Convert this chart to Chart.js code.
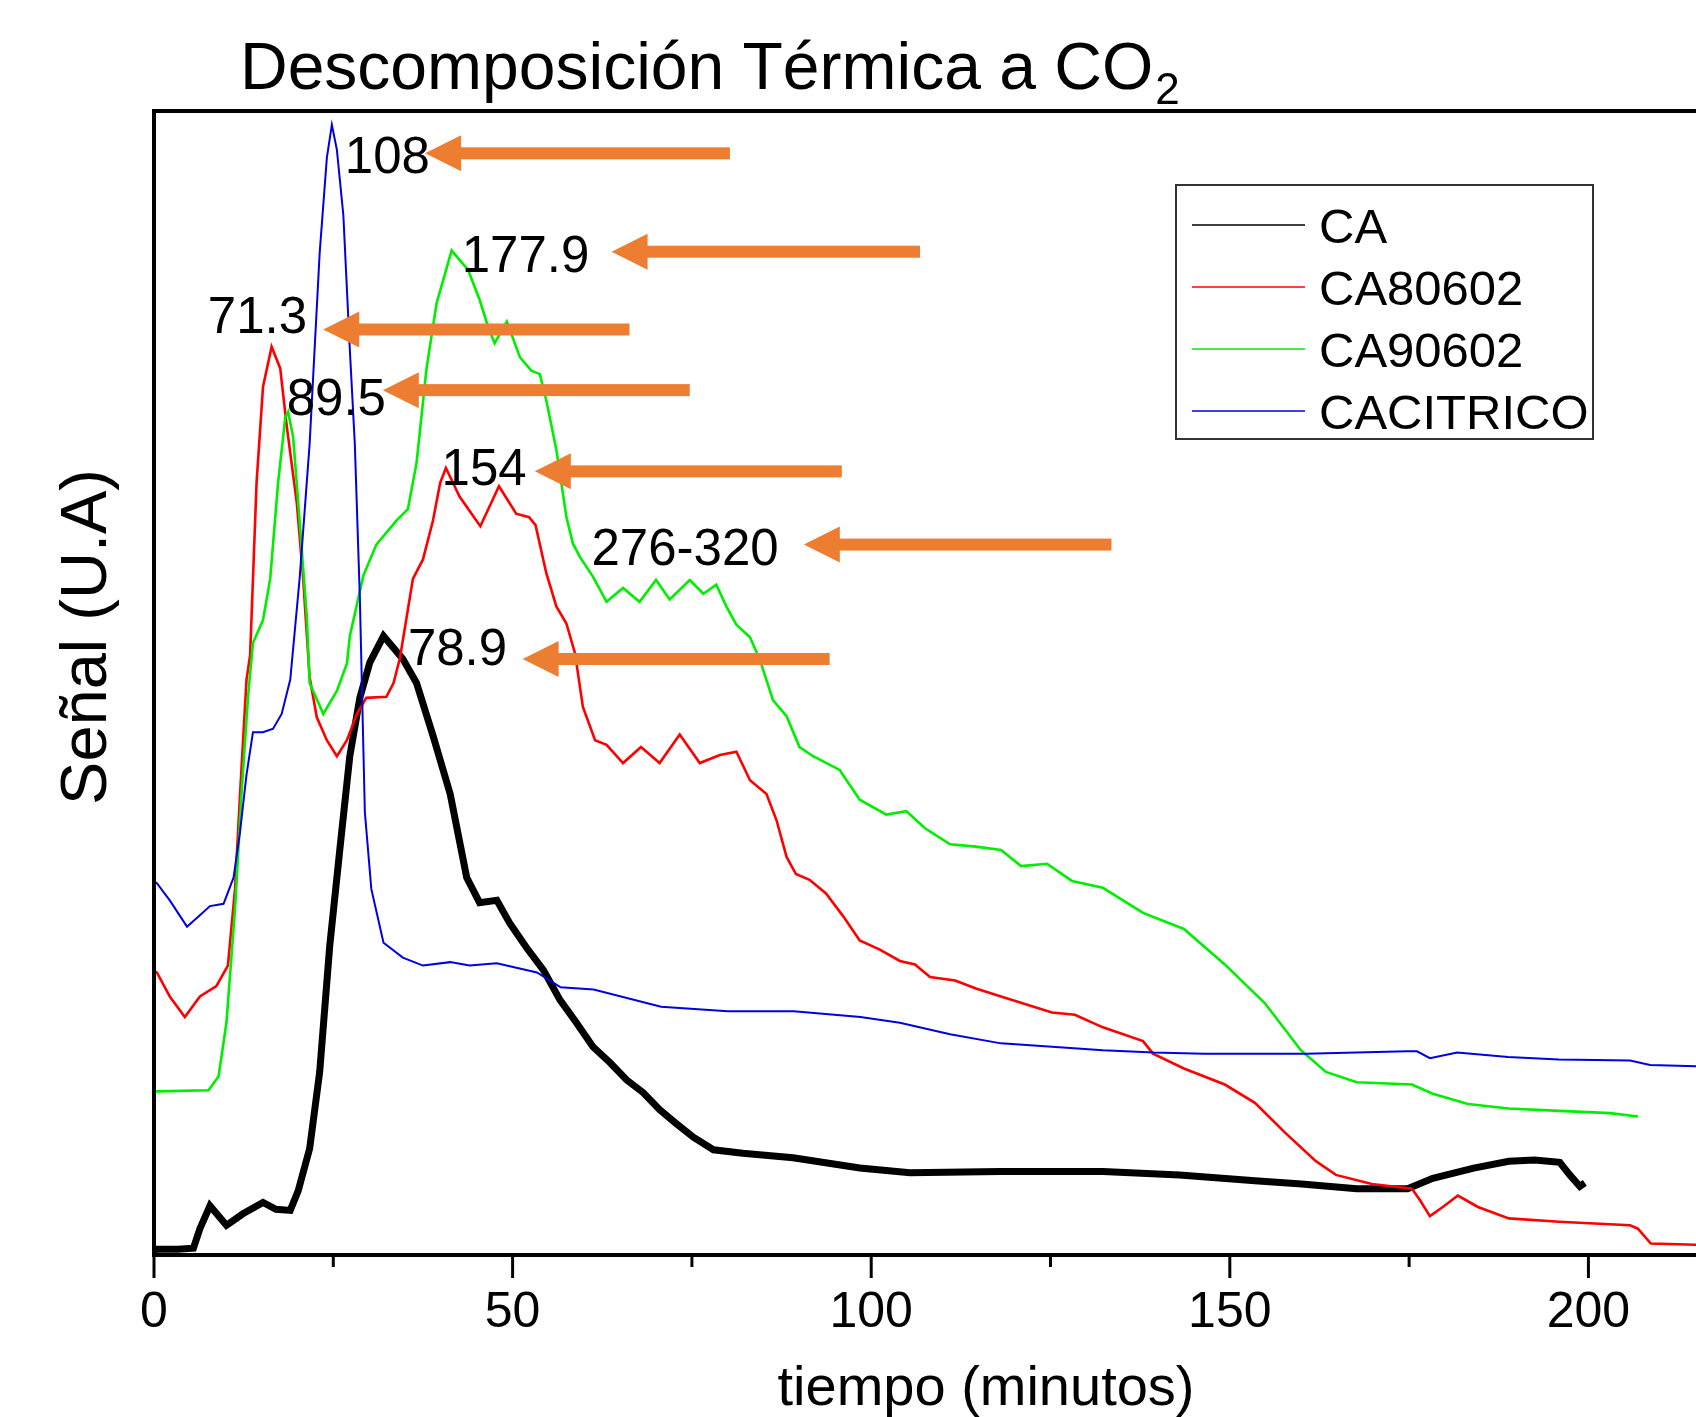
<!DOCTYPE html>
<html>
<head>
<meta charset="utf-8">
<script src="https://cdn.jsdelivr.net/npm/chart.js@4.4.0/dist/chart.umd.min.js"></script>
<style>
html,body{margin:0;padding:0;background:#ffffff;}
#wrap{width:1696px;height:1417px;position:relative;overflow:hidden;}
</style>
</head>
<body>
<div id="wrap"><canvas id="c" width="1696" height="1417"></canvas></div>
<script>
// ---------------- DATA ----------------
const chartTitle = 'Descomposición Térmica a CO';
const chartTitleSub = '2';
const xAxisTitle = 'tiempo (minutos)';
const yAxisTitle = 'Señal (U.A)';
const seriesNames = ['CA', 'CA80602', 'CA90602', 'CACITRICO'];
const xTickLabels = ['0', '50', '100', '150', '200'];
const xTickValues = [0, 50, 100, 150, 200];

// CA (black)
const caTime = [
  0, 0.4, 3.3, 5.5, 6.4, 7.8, 10.1, 12.4, 15.2, 17.0,
  19.0, 20.1, 21.7, 23.1, 24.5, 25.9, 27.3, 28.7, 30.1, 32.0,
  34.7, 36.6, 38.9, 41.3, 43.6, 45.4, 47.8, 49.6, 51.9, 54.3,
  56.6, 58.9, 61.2, 63.6, 65.9, 68.2, 70.5, 72.8, 75.2, 78.0,
  82.1, 89.1, 98.4, 105.4, 118.0, 132.3, 143.0, 153.5, 160.0, 167.7,
  174.8, 178.3, 184.0, 188.9, 192.5, 196.0, 197.4, 198.8, 199.5];
const caSignal = [
  0.4, 0.5, 0.5, 0.6, 2.3, 4.3, 2.6, 3.6, 4.6, 4.0,
  3.9, 5.6, 9.3, 16.0, 27.0, 35.4, 43.6, 48.7, 51.8, 54.1,
  52.1, 50.0, 45.4, 40.3, 33.0, 30.8, 31.0, 29.0, 26.9, 24.9,
  22.3, 20.3, 18.2, 16.8, 15.3, 14.2, 12.7, 11.5, 10.3, 9.2,
  8.9, 8.5, 7.6, 7.2, 7.3, 7.3, 7.0, 6.5, 6.2, 5.8,
  5.8, 6.7, 7.6, 8.2, 8.3, 8.1, 7.0, 6.0, 6.3];

// CA80602 (red)
const ca80602Time = [
  0, 0.4, 2.2, 4.3, 6.4, 8.7, 10.3, 11.3, 12.0, 12.9,
  13.4, 14.3, 15.2, 16.4, 17.6, 18.5, 19.9, 20.8, 21.7, 22.7,
  24.1, 25.5, 26.9, 28.3, 29.6, 32.4, 33.4, 34.3, 36.1, 37.5,
  38.9, 39.9, 40.7, 42.6, 45.5, 48.1, 50.5, 52.3, 53.2, 54.7,
  56.1, 57.5, 58.7, 59.8, 61.5, 63.1, 65.4, 67.9, 70.5, 73.3,
  76.1, 78.9, 81.2, 83.1, 85.4, 86.8, 88.2, 89.5, 91.4, 93.7,
  96.1, 98.4, 101.2, 104.0, 106.1, 108.2, 111.7, 114.6, 118.1, 125.2,
  128.4, 132.3, 137.9, 139.3, 143.6, 149.3, 153.5, 157.7, 162.0, 164.8,
  169.8, 175.4, 176.5, 177.9, 179.7, 181.8, 184.6, 188.9, 195.9, 205.8,
  206.9, 208.7, 215];
const ca80602Signal = [
  24.8, 24.7, 22.6, 20.8, 22.6, 23.5, 25.3, 32.0, 40.3, 50.3,
  52.4, 67.5, 75.9, 79.4, 77.5, 72.5, 65.8, 59.1, 50.5, 47.0,
  45.0, 43.6, 45.0, 47.3, 48.7, 48.8, 50.0, 52.2, 59.1, 60.8,
  64.2, 67.5, 68.8, 66.3, 63.7, 67.2, 64.8, 64.5, 63.8, 59.6,
  56.7, 55.2, 52.6, 47.9, 45.0, 44.6, 43.0, 44.4, 43.0, 45.5,
  43.0, 43.7, 44.0, 41.5, 40.3, 38.0, 34.8, 33.3, 32.8, 31.6,
  29.6, 27.5, 26.7, 25.7, 25.4, 24.3, 24.0, 23.3, 22.6, 21.2,
  21.0, 19.9, 18.7, 17.6, 16.3, 14.9, 13.3, 10.7, 8.2, 7.0,
  6.2, 5.8, 4.8, 3.4, 4.2, 5.2, 4.2, 3.2, 2.9, 2.6,
  2.3, 1.0, 0.9];

// CA90602 (green)
const ca90602Time = [
  0, 0.4, 7.6, 9.0, 10.1, 11.3, 12.2, 13.1, 13.8, 15.2,
  16.2, 17.3, 18.3, 18.7, 19.4, 20.3, 21.3, 21.7, 23.6, 25.5,
  26.9, 27.3, 29.2, 31.0, 33.8, 35.4, 36.6, 38.0, 39.4, 41.5,
  43.8, 45.4, 46.6, 47.5, 49.2, 51.0, 52.6, 53.8, 54.7, 56.1,
  57.5, 58.4, 59.4, 61.2, 63.1, 65.4, 67.7, 70.0, 71.9, 74.7,
  76.6, 78.4, 79.8, 81.2, 83.1, 84.5, 86.3, 88.2, 90.0, 91.9,
  95.6, 98.4, 102.1, 104.9, 107.5, 111.0, 114.6, 118.1, 120.9, 124.5,
  128.0, 132.3, 137.9, 143.6, 149.3, 154.9, 159.9, 163.4, 167.7, 175.4,
  178.3, 183.2, 188.9, 196.0, 203.0, 206.9];
const ca90602Signal = [
  14.2, 14.3, 14.4, 15.6, 20.3, 30.3, 40.3, 48.7, 53.5, 55.5,
  59.1, 67.5, 73.2, 73.7, 71.5, 64.2, 55.8, 50.0, 47.3, 49.3,
  51.7, 54.1, 59.4, 62.1, 64.2, 65.2, 69.2, 77.5, 83.2, 87.8,
  86.1, 83.5, 81.1, 79.7, 81.6, 78.5, 77.3, 77.0, 74.7, 70.4,
  64.5, 62.2, 61.0, 59.3, 57.1, 58.3, 57.1, 59.0, 57.3, 59.0,
  57.8, 58.6, 56.7, 55.1, 54.0, 52.0, 48.5, 47.1, 44.4, 43.6,
  42.4, 39.8, 38.5, 38.8, 37.3, 35.9, 35.7, 35.4, 34.0, 34.2,
  32.7, 32.1, 29.9, 28.5, 25.4, 22.0, 17.9, 16.0, 15.1, 14.9,
  14.1, 13.2, 12.8, 12.6, 12.4, 12.1];

// CACITRICO (blue)
const cacitricoTime = [
  0, 0.4, 2.2, 4.6, 6.4, 7.8, 9.7, 11.1, 12.0, 12.9,
  13.8, 15.2, 16.6, 17.8, 19.0, 20.3, 21.7, 23.1, 24.1, 24.8,
  25.5, 26.4, 27.3, 28.0, 28.7, 29.4, 30.3, 32.0, 34.7, 37.5,
  41.3, 44.0, 47.8, 53.4, 56.7, 61.3, 70.7, 80.0, 89.2, 98.5,
  104.0, 111.0, 118.1, 125.2, 132.3, 139.4, 146.4, 160.6, 174.7, 176.1,
  177.9, 181.7, 188.8, 195.9, 205.8, 208.6, 215];
const cacitricoSignal = [
  32.7, 32.5, 31.0, 28.7, 29.7, 30.5, 30.7, 33.0, 37.0, 42.0,
  45.7, 45.7, 46.0, 47.3, 50.3, 59.1, 70.9, 87.6, 95.9, 98.8,
  96.6, 90.9, 79.2, 70.9, 57.5, 38.7, 32.0, 27.3, 26.0, 25.3,
  25.6, 25.3, 25.5, 24.7, 23.4, 23.2, 21.7, 21.3, 21.3, 20.8,
  20.3, 19.3, 18.5, 18.2, 17.9, 17.7, 17.6, 17.6, 17.8, 17.8,
  17.2, 17.7, 17.3, 17.1, 17.0, 16.6, 16.5];

// Peak annotations (in data units: minutes / signal)
const annotLabels     = ['108', '177.9', '71.3', '89.5', '154', '276-320', '78.9'];
const annotTextTime   = [26.6, 42.9, 7.5, 18.5, 40.1, 61.0, 35.4];
const annotTextSignal = [94.6, 85.9, 80.6, 73.4, 67.3, 60.3, 51.6];
const arrowTipTime    = [37.8, 63.8, 23.6, 31.9, 53.1, 90.6, 51.4];
const arrowTailTime   = [80.3, 106.8, 66.3, 74.7, 95.9, 133.5, 94.2];
const arrowSignal     = [96.3, 87.7, 80.9, 75.6, 68.5, 62.1, 52.1];

// ---------------- STYLE ----------------
const FONT = '"Liberation Sans", Arial, Helvetica, sans-serif';
const seriesColors = ['#000000', '#ff0000', '#00ee00', '#0000e0'];
const seriesWidths = [7, 2.6, 2.6, 2];
const ORANGE = '#ED7D31';

function toPoints(t, v) { return t.map((x, i) => ({ x: x, y: v[i] })); }

const datasets = [
  [caTime, caSignal],
  [ca80602Time, ca80602Signal],
  [ca90602Time, ca90602Signal],
  [cacitricoTime, cacitricoSignal]
].map((pair, i) => ({
  label: seriesNames[i],
  data: toPoints(pair[0], pair[1]),
  borderColor: seriesColors[i],
  backgroundColor: seriesColors[i],
  borderWidth: seriesWidths[i],
  pointRadius: 0,
  tension: 0,
  fill: false,
  order: 4 - i
}));

const decorPlugin = {
  id: 'decor',
  afterDatasetsDraw(chart) {
    const ctx = chart.ctx;
    const xs = chart.scales.x, ys = chart.scales.y;
    const ca = chart.chartArea;
    ctx.save();
    // Frame: left, top, bottom
    ctx.strokeStyle = '#000';
    ctx.lineWidth = 4;
    ctx.beginPath();
    ctx.moveTo(ca.left, ca.top); ctx.lineTo(ca.right + 5, ca.top);
    ctx.moveTo(ca.left, ca.top - 2); ctx.lineTo(ca.left, ca.bottom + 2);
    ctx.moveTo(ca.left - 2, ca.bottom); ctx.lineTo(ca.right + 5, ca.bottom);
    ctx.stroke();
    // x tick marks (major + minor)
    ctx.lineWidth = 3;
    xs.ticks.forEach(t => {
      const px = xs.getPixelForValue(t.value);
      const major = xTickValues.includes(t.value);
      ctx.beginPath();
      ctx.moveTo(px, ca.bottom);
      ctx.lineTo(px, ca.bottom + (major ? 23 : 12));
      ctx.stroke();
    });

    // Annotations: labels and orange arrows
    ctx.font = '51px ' + FONT;
    ctx.textAlign = 'left';
    ctx.textBaseline = 'alphabetic';
    annotLabels.forEach((lab, i) => {
      ctx.fillStyle = '#000';
      ctx.fillText(lab, xs.getPixelForValue(annotTextTime[i]), ys.getPixelForValue(annotTextSignal[i]));
      const tip = xs.getPixelForValue(arrowTipTime[i]);
      const tail = xs.getPixelForValue(arrowTailTime[i]);
      const y = ys.getPixelForValue(arrowSignal[i]);
      const headLen = 36, headHalf = 18, shaft = 12;
      ctx.fillStyle = ORANGE;
      ctx.fillRect(tip + headLen - 1, y - shaft / 2, tail - tip - headLen + 1, shaft);
      ctx.beginPath();
      ctx.moveTo(tip, y);
      ctx.lineTo(tip + headLen, y - headHalf);
      ctx.lineTo(tip + headLen, y + headHalf);
      ctx.closePath();
      ctx.fill();
    });

    // Legend box
    const lx = 1176, ly = 185, lw = 417, lh = 254;
    ctx.fillStyle = '#fff';
    ctx.fillRect(lx, ly, lw, lh);
    ctx.strokeStyle = '#333';
    ctx.lineWidth = 2;
    ctx.strokeRect(lx, ly, lw, lh);
    chart.data.datasets.forEach((ds, i) => {
      const ry = 225 + i * 62;
      ctx.strokeStyle = ds.borderColor;
      ctx.lineWidth = 1.6;
      ctx.beginPath();
      ctx.moveTo(1192, ry); ctx.lineTo(1305, ry);
      ctx.stroke();
      ctx.fillStyle = '#000';
      ctx.font = '49px ' + FONT;
      ctx.textAlign = 'left';
      ctx.textBaseline = 'alphabetic';
      ctx.fillText(ds.label, 1319, ry + 18);
    });

    // Chart title with subscript
    ctx.fillStyle = '#000';
    ctx.font = '66px ' + FONT;
    ctx.textAlign = 'left';
    ctx.textBaseline = 'alphabetic';
    ctx.fillText(chartTitle, 240, 89);
    const tw = ctx.measureText(chartTitle).width;
    ctx.font = '44px ' + FONT;
    ctx.fillText(chartTitleSub, 240 + tw + 2, 104);

    // X axis title
    ctx.font = '56px ' + FONT;
    ctx.textAlign = 'center';
    ctx.fillText(xAxisTitle, 986, 1405);

    // Y axis title (rotated)
    ctx.translate(106, 637);
    ctx.rotate(-Math.PI / 2);
    ctx.font = '65px ' + FONT;
    ctx.textAlign = 'center';
    ctx.textBaseline = 'alphabetic';
    ctx.fillText(yAxisTitle, 0, 0);
    ctx.restore();
  }
};

new Chart(document.getElementById('c'), {
  type: 'line',
  data: { datasets: datasets },
  options: {
    responsive: false,
    animation: false,
    devicePixelRatio: 1,
    layout: { padding: { top: 111, left: 0, right: 0, bottom: 0 } },
    plugins: { legend: { display: false }, tooltip: { enabled: false }, title: { display: false } },
    scales: {
      x: {
        type: 'linear',
        min: 0,
        max: 215,
        grid: { display: false, drawTicks: false },
        border: { display: false },
        ticks: {
          stepSize: 25,
          includeBounds: false,
          autoSkip: false,
          maxRotation: 0,
          padding: 28,
          color: '#000',
          font: { size: 50, family: FONT },
          callback: (v) => {
            const k = xTickValues.indexOf(v);
            return k >= 0 ? xTickLabels[k] : '';
          }
        },
        afterFit: (s) => { s.height = 162; }
      },
      y: {
        type: 'linear',
        min: 0,
        max: 100,
        grid: { display: false, drawTicks: false },
        border: { display: false },
        ticks: { display: false },
        afterFit: (s) => { s.width = 154; }
      }
    }
  },
  plugins: [decorPlugin]
});
</script>
</body>
</html>
